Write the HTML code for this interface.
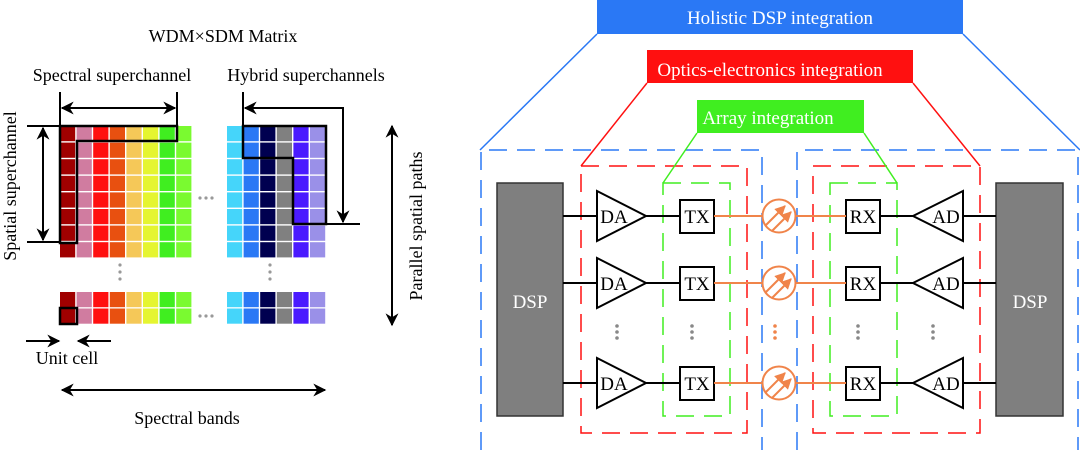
<!DOCTYPE html>
<html><head><meta charset="utf-8"><style>
html,body{margin:0;padding:0;background:#fff}
svg{display:block;font-family:"Liberation Serif",serif}
</style></head><body>
<svg id="s" width="1080" height="450" viewBox="0 0 1080 450" xmlns="http://www.w3.org/2000/svg">
<defs>
<marker id="ah2" viewBox="0 0 10 10" refX="9" refY="5" markerWidth="13" markerHeight="13" orient="auto-start-reverse" markerUnits="userSpaceOnUse"><path d="M0,0 L10,5 L0,10 L3,5 z" fill="#000"/></marker>
<marker id="ao" viewBox="0 0 10 10" refX="9" refY="5" markerWidth="11" markerHeight="11" orient="auto" markerUnits="userSpaceOnUse"><path d="M0,0 L10,5 L0,10 z" fill="#f0844a"/></marker>
</defs>
<g id="grid"></g>
<g font-family="Liberation Serif, serif">
<text x="223" y="42" font-size="18" text-anchor="middle">WDM×SDM Matrix</text>
<text x="112" y="81" font-size="18" text-anchor="middle">Spectral superchannel</text>
<text x="306" y="81" font-size="18" text-anchor="middle">Hybrid superchannels</text>
<text x="16" y="186" font-size="18" text-anchor="middle" transform="rotate(-90 16 186)">Spatial superchannel</text>
<text x="422" y="226" font-size="18" text-anchor="middle" transform="rotate(-90 422 226)">Parallel spatial paths</text>
<text x="67" y="364" font-size="18" text-anchor="middle">Unit cell</text>
<text x="187" y="424" font-size="18" text-anchor="middle">Spectral bands</text>
</g>
<g stroke="#000" stroke-width="2" fill="none">
<line x1="60" y1="92" x2="60" y2="126"/><line x1="177" y1="92" x2="177" y2="126"/>
<line x1="62" y1="108" x2="175" y2="108" marker-start="url(#ah2)" marker-end="url(#ah2)"/>
<path d="M60,126 H177 V141 H77 V243 H60 Z" stroke-width="2.5"/>
<line x1="27" y1="126" x2="60" y2="126"/><line x1="27" y1="242" x2="60" y2="242"/>
<line x1="43" y1="128" x2="43" y2="240" marker-start="url(#ah2)" marker-end="url(#ah2)"/>
<line x1="243" y1="92" x2="243" y2="126"/>
<path d="M245,108 H343 V222" marker-start="url(#ah2)" marker-end="url(#ah2)"/>
<line x1="293" y1="224" x2="360" y2="224"/>
<path d="M243,126 H326 V224 H293 V158 H243 Z" stroke-width="2.5"/>
<line x1="392" y1="126" x2="392" y2="325" marker-start="url(#ah2)" marker-end="url(#ah2)"/>
<rect x="60" y="308" width="17" height="16" stroke-width="2.5"/>
<line x1="26" y1="341" x2="59" y2="341" marker-end="url(#ah2)"/>
<line x1="111" y1="341" x2="78" y2="341" marker-end="url(#ah2)"/>
<line x1="62" y1="390" x2="325" y2="390" marker-start="url(#ah2)" marker-end="url(#ah2)"/>
</g>

<rect x="597" y="0" width="366" height="34" fill="#2a78f5"/>
<text x="780" y="24" font-size="19" fill="#fff" text-anchor="middle">Holistic DSP integration</text>
<g fill="none" stroke="#2a78f5" stroke-width="1.5">
<line x1="597" y1="34" x2="480" y2="150"/><line x1="963" y1="34" x2="1080" y2="150"/>
<g stroke-dasharray="18,10">
<path d="M481,450 V150 H762 V450"/><path d="M797,450 V150 H1078 V450"/>
</g></g>
<rect x="647" y="50" width="266" height="33" fill="#ff1010"/>
<text x="770" y="76" font-size="19" fill="#fff" text-anchor="middle">Optics-electronics integration</text>
<g fill="none" stroke="#ff1010" stroke-width="1.5">
<line x1="647" y1="83" x2="581" y2="166"/><line x1="913" y1="83" x2="980" y2="166"/>
<g stroke-dasharray="18,10"><rect x="581" y="166" width="166" height="267"/><rect x="813" y="166" width="167" height="267"/></g></g>
<rect x="697" y="100" width="167" height="33" fill="#40ee20"/>
<text x="768" y="124" font-size="19" fill="#fff" text-anchor="middle">Array integration</text>
<g fill="none" stroke="#40ee20" stroke-width="1.5">
<line x1="697" y1="133" x2="663" y2="183"/><line x1="864" y1="133" x2="897" y2="183"/>
<g stroke-dasharray="18,10"><rect x="663" y="183" width="67" height="233"/><rect x="830" y="183" width="67" height="233"/></g></g>
<rect x="497" y="183" width="66" height="233" fill="#7f7f7f" stroke="#333" stroke-width="1.5"/>
<rect x="996" y="183" width="67" height="233" fill="#7f7f7f" stroke="#333" stroke-width="1.5"/>
<text x="530" y="308" font-size="19" fill="#fff" text-anchor="middle">DSP</text>
<text x="1030" y="308" font-size="19" fill="#fff" text-anchor="middle">DSP</text>
<g id="rows"></g>
<g fill="#888">
<circle cx="617" cy="326" r="1.8"/><circle cx="617" cy="332" r="1.8"/><circle cx="617" cy="338" r="1.8"/>
<circle cx="692" cy="326" r="1.8"/><circle cx="692" cy="332" r="1.8"/><circle cx="692" cy="338" r="1.8"/>
<circle cx="858" cy="326" r="1.8"/><circle cx="858" cy="332" r="1.8"/><circle cx="858" cy="338" r="1.8"/>
<circle cx="933" cy="326" r="1.8"/><circle cx="933" cy="332" r="1.8"/><circle cx="933" cy="338" r="1.8"/>
</g>
<g fill="#f0844a"><circle cx="775" cy="326" r="1.8"/><circle cx="775" cy="332" r="1.8"/><circle cx="775" cy="338" r="1.8"/></g>
</svg>
<script>
var NS="http://www.w3.org/2000/svg",g=document.getElementById("grid");
function r(x,y,w,h,f){var e=document.createElementNS(NS,"rect");e.setAttribute("x",x);e.setAttribute("y",y);e.setAttribute("width",w);e.setAttribute("height",h);e.setAttribute("fill",f);g.appendChild(e);}
var L=["#a00000","#d07ca0","#ff1010","#e85010","#f5c858","#e5f530","#40ee20","#7afa30"];
var R=["#45d5fa","#2a78f5","#000050","#808080","#4a1aff","#9a90e8"];
var rows=[];for(var i=0;i<8;i++)rows.push(126+i*16.6);rows.push(292);rows.push(308.5);
rows.forEach(function(y){L.forEach(function(c,j){r(60+j*16.6,y,15.2,15.2,c)});R.forEach(function(c,j){r(227+j*16.6,y,15.2,15.2,c)});});
[[200,198],[206,198],[212,198],[200,316],[206,316],[212,316],[120,265],[120,272],[120,279],[270,265],[270,272],[270,279]].forEach(function(p){var c=document.createElementNS(NS,"circle");c.setAttribute("cx",p[0]);c.setAttribute("cy",p[1]);c.setAttribute("r",1.6);c.setAttribute("fill","#999");g.appendChild(c);});
var h="";
[216,283,383].forEach(function(y){
h+='<g stroke="#000" stroke-width="2" fill="none">'+
'<line x1="563" y1="'+y+'" x2="597" y2="'+y+'"/><line x1="646" y1="'+y+'" x2="680" y2="'+y+'"/>'+
'<line x1="880" y1="'+y+'" x2="913" y2="'+y+'"/><line x1="963" y1="'+y+'" x2="996" y2="'+y+'"/>'+
'<path d="M597,'+(y-25)+' L646,'+y+' L597,'+(y+25)+' Z" fill="#fff"/>'+
'<path d="M963,'+(y-25)+' L913,'+y+' L963,'+(y+25)+' Z" fill="#fff"/>'+
'<rect x="680" y="'+(y-16)+'" width="34" height="33" fill="#fff"/>'+
'<rect x="846" y="'+(y-16)+'" width="34" height="33" fill="#fff"/></g>'+
'<g stroke="#f0844a" stroke-width="2" fill="none"><line x1="714" y1="'+y+'" x2="762" y2="'+y+'"/><line x1="796" y1="'+y+'" x2="846" y2="'+y+'"/>'+
'<circle cx="779" cy="'+y+'" r="16.5" fill="#fff"/>'+
'<line x1="766" y1="'+(y+9)+'" x2="785" y2="'+(y-10)+'" marker-end="url(#ao)"/>'+
'<line x1="772" y1="'+(y+15)+'" x2="791" y2="'+(y-4)+'" marker-end="url(#ao)"/></g>'+
'<text x="614" y="'+(y+7)+'" font-size="19" text-anchor="middle" font-family="Liberation Serif, serif">DA</text>'+
'<text x="697" y="'+(y+7)+'" font-size="19" text-anchor="middle" font-family="Liberation Serif, serif">TX</text>'+
'<text x="863" y="'+(y+7)+'" font-size="19" text-anchor="middle" font-family="Liberation Serif, serif">RX</text>'+
'<text x="946" y="'+(y+7)+'" font-size="19" text-anchor="middle" font-family="Liberation Serif, serif">AD</text>';
});
document.getElementById("rows").innerHTML=h;
</script>
</body></html>
